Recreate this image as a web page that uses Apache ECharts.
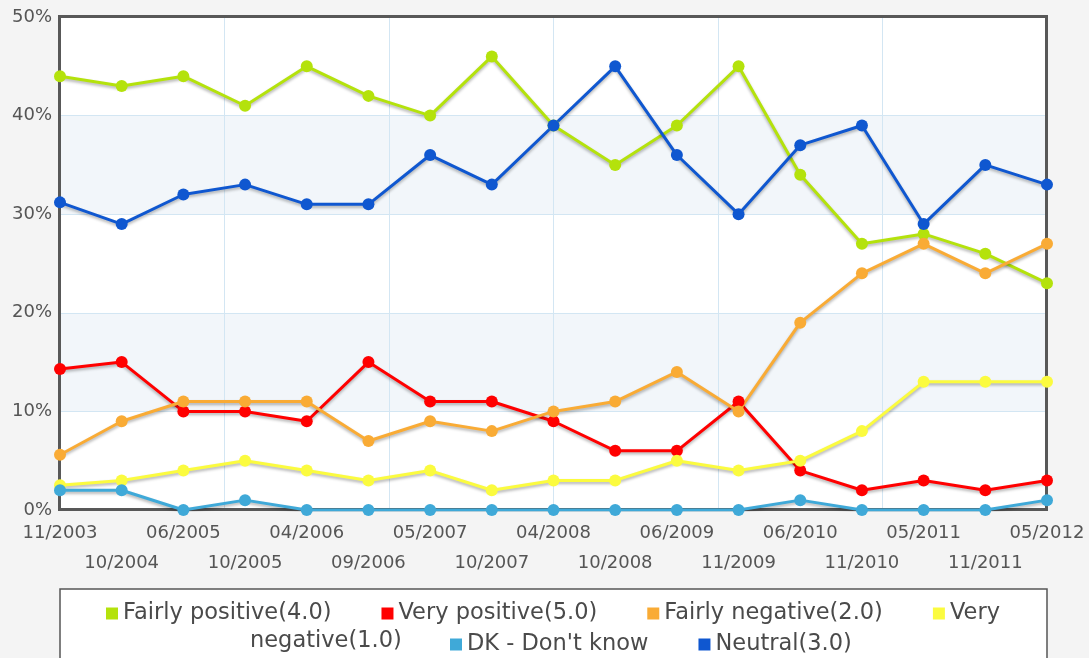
<!DOCTYPE html>
<html>
<head>
<meta charset="utf-8">
<script src="https://cdn.jsdelivr.net/npm/echarts@6/dist/echarts.min.js"></script>
<style>
  html, body { margin: 0; padding: 0; background: #f4f4f4; }
  #chart { width: 1089px; height: 658px; }
</style>
</head>
<body>
<div id="chart"></div>
<script>
  // survey dates (x axis)
  const dates = ['11/2003', '10/2004', '06/2005', '10/2005', '04/2006', '09/2006', '05/2007', '10/2007',
    '04/2008', '10/2008', '06/2009', '11/2009', '06/2010', '11/2010', '05/2011', '11/2011', '05/2012'];

  // share of answers, in %
  const fairlyPositive = [44, 43, 44, 41, 45, 42, 40, 46, 39, 35, 39, 45, 34, 27, 28, 26, 23];
  const veryPositive   = [14.3, 15, 10, 10, 9, 15, 11, 11, 9, 6, 6, 11, 4, 2, 3, 2, 3];
  const fairlyNegative = [5.6, 9, 11, 11, 11, 7, 9, 8, 10, 11, 14, 10, 19, 24, 27, 24, 27];
  const veryNegative   = [2.5, 3, 4, 5, 4, 3, 4, 2, 3, 3, 5, 4, 5, 8, 13, 13, 13];
  const dontKnow       = [2, 2, 0, 1, 0, 0, 0, 0, 0, 0, 0, 0, 1, 0, 0, 0, 1];
  const neutral        = [31.2, 29, 32, 33, 31, 31, 36, 33, 39, 45, 36, 30, 37, 39, 29, 35, 33];

  const yTicks = [0, 10, 20, 30, 40, 50];

  const seriesDefs = [
    { name: 'Fairly positive(4.0)', data: fairlyPositive, color: '#b4e20c' },
    { name: 'Very positive(5.0)', data: veryPositive, color: '#ff0000' },
    { name: 'Fairly negative(2.0)', data: fairlyNegative, color: '#f9ab35' },
    { name: 'Very negative(1.0)', data: veryNegative, color: '#fbfb3f' },
    { name: 'DK - Don\'t know', data: dontKnow, color: '#3fa9d8' },
    { name: 'Neutral(3.0)', data: neutral, color: '#0f57d0' }
  ];

  const font = 'DejaVu Sans, Verdana, sans-serif';
  const legendFont = { fontFamily: font, fontSize: 22.5, color: '#4a4a4a' };

  const chart = echarts.init(document.getElementById('chart'));
  chart.setOption({
    backgroundColor: '#f4f4f4',
    animation: false,
    grid: {
      left: 60, right: 42, top: 17, bottom: 148,
      show: true, backgroundColor: '#fff', borderWidth: 0
    },
    graphic: [
      {
        // plot frame, drawn over the bands but under the lines
        type: 'rect', z: 1, silent: true,
        shape: { x: 59.5, y: 16.5, width: 987, height: 493 },
        style: { fill: null, stroke: '#585858', lineWidth: 3 }
      },
      {
        type: 'rect', z: 1,
        shape: { x: 60, y: 589, width: 987, height: 90 },
        style: { fill: '#fff', stroke: '#555', lineWidth: 1.5 }
      },
      {
        type: 'text', z: 5, left: 250, top: 630,
        style: { text: 'negative(1.0)', fontFamily: font, fontSize: 22.5, fill: '#4a4a4a' }
      }
    ],
    legend: [
      {
        data: seriesDefs.slice(0, 4).map(s => s.name),
        left: 106, top: 602, padding: 0,
        itemWidth: 12, itemHeight: 12, itemGap: 50,
        icon: 'rect',
        formatter: name => name === 'Very negative(1.0)' ? 'Very' : name,
        textStyle: legendFont
      },
      {
        data: seriesDefs.slice(4).map(s => s.name),
        left: 450, top: 633, padding: 0,
        itemWidth: 12, itemHeight: 12, itemGap: 50,
        icon: 'rect',
        textStyle: legendFont
      }
    ],
    xAxis: [
      {
        type: 'category',
        data: dates,
        boundaryGap: false,
        axisLine: { show: false },
        axisTick: { show: false },
        splitLine: { show: false },
        axisLabel: {
          interval: 0, margin: 8,
          fontFamily: font, fontSize: 18, color: '#555', lineHeight: 30,
          formatter: (v, i) => (i % 2 ? '\n' + v : v)
        }
      },
      {
        // only for the light vertical grid lines
        type: 'value', min: 0, max: 6, interval: 1,
        position: 'top',
        axisLine: { show: false }, axisTick: { show: false }, axisLabel: { show: false },
        splitLine: { show: true, lineStyle: { color: '#d3e6f3', width: 1 } }
      }
    ],
    yAxis: {
      type: 'value',
      min: yTicks[0], max: yTicks[yTicks.length - 1], interval: 10,
      axisLine: { show: false },
      axisTick: { show: false },
      axisLabel: { fontFamily: font, fontSize: 18, color: '#555', margin: 8, formatter: '{value}%' },
      splitLine: { lineStyle: { color: '#d3e6f3', width: 1 } },
      splitArea: { show: true, areaStyle: { color: ['#ffffff', '#f2f6fa'] } }
    },
    series: seriesDefs.map(s => ({
      name: s.name,
      type: 'line',
      xAxisIndex: 0,
      data: s.data,
      color: s.color,
      symbol: 'circle',
      symbolSize: 12,
      z: 3,
      lineStyle: {
        width: 3, color: s.color,
        shadowColor: 'rgba(0,0,0,0.3)', shadowBlur: 3, shadowOffsetY: 2
      },
      itemStyle: { color: s.color }
    }))
  });
</script>
</body>
</html>
